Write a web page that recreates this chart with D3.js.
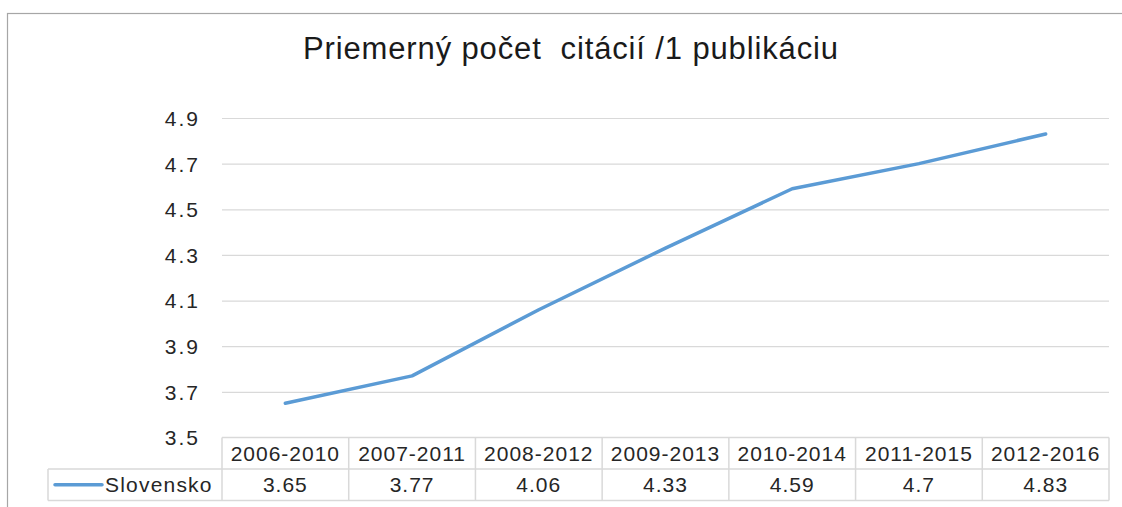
<!DOCTYPE html>
<html>
<head>
<meta charset="utf-8">
<script src="https://cdn.jsdelivr.net/npm/d3@7"></script>
<style>
  body { margin: 0; background: #fff; }
  text { font-family: "Liberation Sans", Arial, sans-serif; fill: #262626; }
</style>
</head>
<body>
<div id="chart"></div>
<script>
var title = "Priemerný počet  citácií /1 publikáciu";
var seriesName = "Slovensko";
var categories = ["2006-2010", "2007-2011", "2008-2012", "2009-2013", "2010-2014", "2011-2015", "2012-2016"];
var values = [3.65, 3.77, 4.06, 4.33, 4.59, 4.7, 4.83];
var valueLabels = ["3.65", "3.77", "4.06", "4.33", "4.59", "4.7", "4.83"];
var yTicks = [3.5, 3.7, 3.9, 4.1, 4.3, 4.5, 4.7, 4.9];

var W = 1122, H = 507;
var plotLeft = 222, plotRight = 1109;
var legendLeft = 48;

var svg = d3.select("#chart").append("svg")
    .attr("width", W)
    .attr("height", H);

// outer frame (only left and top visible in the picture)
svg.append("rect")
    .attr("x", 7.5).attr("y", 13.5)
    .attr("width", W + 20).attr("height", H + 20)
    .attr("fill", "#fff")
    .attr("stroke", "#a6a6a6")
    .attr("stroke-width", 1.2);

svg.append("text")
    .attr("x", 303).attr("y", 59)
    .attr("textLength", 535)
    .attr("lengthAdjust", "spacing")
    .attr("xml:space", "preserve")
    .style("font-size", "31px")
    .style("fill", "#1a1a1a")
    .text(title);

var x = d3.scaleBand()
    .domain(categories)
    .range([plotLeft, plotRight]);

var y = d3.scaleLinear()
    .domain([3.5, 4.9])
    .range([437.5, 118]);

// gridlines
svg.append("g")
    .attr("class", "gridy")
    .attr("transform", "translate(" + plotLeft + ",0)")
    .call(d3.axisLeft(y).tickValues(yTicks.slice(1)).tickSize(-(plotRight - plotLeft)).tickFormat(""))
    .call(function (g) {
        g.select(".domain").remove();
        g.selectAll("line").attr("stroke", "#d9d9d9").attr("stroke-width", 1.2);
    });

// y axis labels
svg.append("g")
    .attr("class", "y axis")
    .attr("transform", "translate(200,0)")
    .call(d3.axisLeft(y).tickValues(yTicks).tickSize(0).tickPadding(0).tickFormat(d3.format(".1f")))
    .call(function (g) {
        g.select(".domain").remove();
        g.selectAll("text")
            .style("font-size", "21px")
            .style("letter-spacing", "2px")
            .attr("fill", "#262626")
            .attr("dy", "0.35em");
    });

// data line
var valueline = d3.line()
    .x(function (d, i) { return x(categories[i]) + x.bandwidth() / 2; })
    .y(function (d) { return y(d); });

svg.append("path")
    .datum(values)
    .attr("class", "lineSK")
    .attr("fill", "none")
    .attr("stroke", "#5b9bd5")
    .attr("stroke-width", 3.5)
    .attr("stroke-linecap", "round")
    .attr("stroke-linejoin", "round")
    .attr("d", valueline);

// data table
var rowTop = 437.5, rowMid = 469, rowBot = 500.5;
var tbl = svg.append("g").attr("class", "table");
var gridColor = "#d9d9d9";

tbl.append("line").attr("x1", plotLeft).attr("x2", plotRight).attr("y1", rowTop).attr("y2", rowTop)
    .attr("stroke", gridColor).attr("stroke-width", 1.5);
tbl.append("line").attr("x1", legendLeft).attr("x2", plotRight).attr("y1", rowMid).attr("y2", rowMid)
    .attr("stroke", gridColor).attr("stroke-width", 1.5);
tbl.append("line").attr("x1", legendLeft).attr("x2", plotRight).attr("y1", rowBot).attr("y2", rowBot)
    .attr("stroke", gridColor).attr("stroke-width", 1.5);
tbl.append("line").attr("x1", legendLeft).attr("x2", legendLeft).attr("y1", rowMid).attr("y2", rowBot)
    .attr("stroke", gridColor).attr("stroke-width", 1.5);

var edges = categories.map(function (c) { return x(c); }).concat([plotRight]);
tbl.selectAll(".vline").data(edges).enter().append("line")
    .attr("class", "vline")
    .attr("x1", function (d) { return d; }).attr("x2", function (d) { return d; })
    .attr("y1", rowTop).attr("y2", rowBot)
    .attr("stroke", gridColor).attr("stroke-width", 1.5);

tbl.selectAll(".cat").data(categories).enter().append("text")
    .attr("class", "cat")
    .attr("x", function (d) { return x(d) + x.bandwidth() / 2; })
    .attr("y", rowTop + 23)
    .attr("text-anchor", "middle")
    .style("font-size", "21px")
    .style("letter-spacing", "1px")
    .text(function (d) { return d; });

tbl.selectAll(".val").data(valueLabels).enter().append("text")
    .attr("class", "val")
    .attr("x", function (d, i) { return x(categories[i]) + x.bandwidth() / 2; })
    .attr("y", rowMid + 23)
    .attr("text-anchor", "middle")
    .style("font-size", "21px")
    .style("letter-spacing", "1px")
    .text(function (d) { return d; });

// legend key
tbl.append("line")
    .attr("x1", 55).attr("x2", 102)
    .attr("y1", (rowMid + rowBot) / 2).attr("y2", (rowMid + rowBot) / 2)
    .attr("stroke", "#5b9bd5").attr("stroke-width", 3.5)
    .attr("stroke-linecap", "round");
tbl.append("text")
    .attr("x", 105).attr("y", rowMid + 23)
    .style("font-size", "21px")
    .style("letter-spacing", "1.2px")
    .text(seriesName);
</script>
</body>
</html>
